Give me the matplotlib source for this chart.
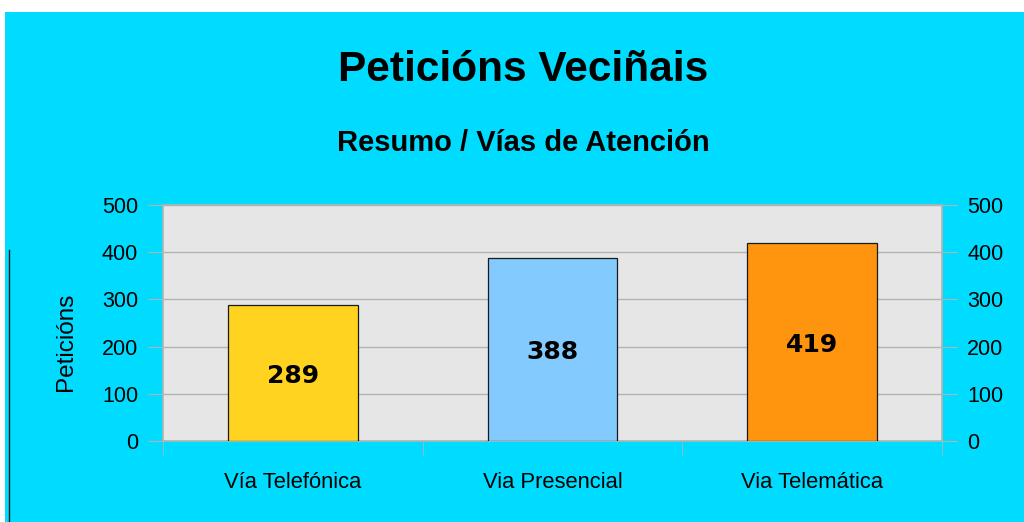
import matplotlib
matplotlib.use("Agg")
import matplotlib.pyplot as plt
from matplotlib.patches import Rectangle

plt.rcParams["font.family"] = ["Liberation Sans", "DejaVu Sans"]

# data
categories = ["Vía Telefónica", "Via Presencial", "Via Telemática"]
values = [289, 388, 419]
bar_colors = ["#FFD320", "#83CAFF", "#FF950E"]
yticks = [0, 100, 200, 300, 400, 500]

BG = "#00DCFF"
GRID = "#B3B3B3"

fig = plt.figure(figsize=(10.24, 5.22), dpi=100, facecolor="white")

# cyan chart background (white strip on top, like the screenshot)
fig.patches.append(Rectangle((5 / 1024, 0), 1 - 5 / 1024, 1 - 12 / 522,
                             transform=fig.transFigure, facecolor=BG,
                             edgecolor="none", zorder=-10))
fig.lines.append(plt.Line2D([9 / 1024, 9 / 1024], [0, 1 - 250 / 522],
                            transform=fig.transFigure, color="#1a1a1a", lw=1))

ax = fig.add_axes([163 / 1024, 81 / 522, 779 / 1024, 236 / 522])
ax.set_facecolor("#E6E6E6")

x = range(len(categories))
ax.bar(x, values, width=0.5, color=bar_colors, edgecolor="#1a1a1a",
       linewidth=0.9, zorder=3)
for i, v in enumerate(values):
    ax.text(i, v / 2 - 6, str(v), ha="center", va="center", fontsize=18,
            fontweight="bold", color="black", family="DejaVu Sans", zorder=4)

ax.set_xlim(-0.5, len(categories) - 0.5)
ax.set_ylim(0, 500)
ax.set_yticks(yticks)
ax.grid(axis="y", color=GRID, linewidth=1, zorder=0)

ax.set_xticks(list(x))
ax.set_xticklabels(categories, fontsize=15.8)
ax.tick_params(axis="x", length=0, pad=22)
# category boundary ticks
ax.set_xticks([i - 0.5 for i in range(len(categories) + 1)], minor=True)
ax.tick_params(axis="x", which="minor", length=10, color=GRID, direction="out")

ax.tick_params(axis="y", length=11, color=GRID, labelsize=15.5, pad=7)
for s in ax.spines.values():
    s.set_color(GRID)
    s.set_linewidth(1.2)

ax.set_ylabel("Peticións", fontsize=17.5)
ax.yaxis.set_label_coords(-0.11, 0.42)

ax2 = ax.twinx()
ax2.set_ylim(0, 500)
ax2.set_yticks(yticks)
ax2.tick_params(axis="y", length=11, color=GRID, labelsize=15.5, pad=7)
for s in ax2.spines.values():
    s.set_visible(False)

fig.text(523 / 1024, 1 - 70 / 522, "Peticións Veciñais", ha="center",
         va="center", fontsize=30.5, fontweight="bold")
fig.text(523 / 1024, 1 - 143 / 522, "Resumo / Vías de Atención", ha="center",
         va="center", fontsize=21, fontweight="bold")

fig.savefig("out.png", dpi=100, facecolor=fig.get_facecolor())
